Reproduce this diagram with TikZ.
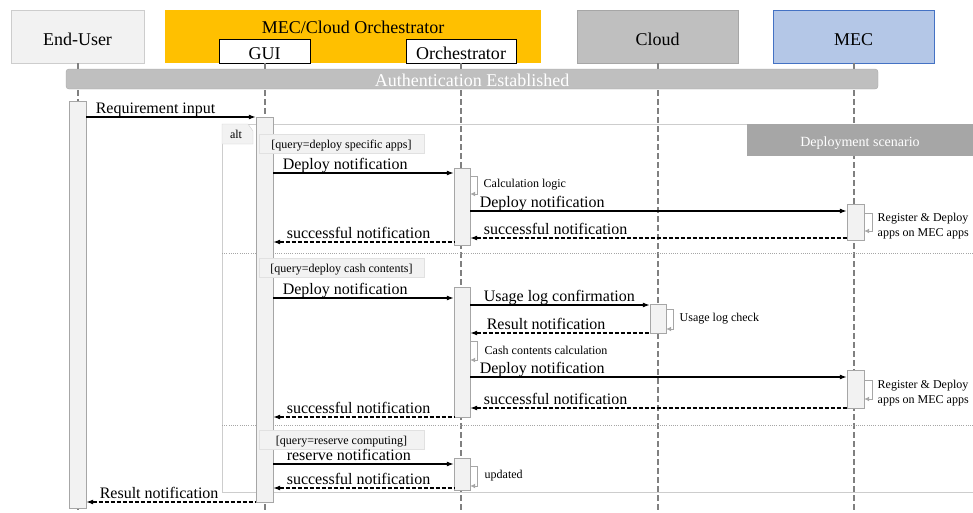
\documentclass[tikz,border=0pt]{standalone}
\usepackage{fontspec}
\setmainfont{Liberation Serif}
\usepackage{tikz}
\usetikzlibrary{positioning,arrows.meta}
\definecolor{colorhead}   {RGB}{242,242,242}
\definecolor{colororch}   {RGB}{255,192,0}
\definecolor{colorcloud}  {RGB}{191,191,191}
\definecolor{colordark}   {RGB}{166,166,166}
\definecolor{colormec}    {RGB}{180,199,231}
\definecolor{colormecline}{RGB}{68,114,196}
\definecolor{colorlife}   {RGB}{128,128,128}
\definecolor{colorframe}  {RGB}{205,205,205}

\begin{document}
\begin{tikzpicture}[
    x=1pt, y=-1pt,
    head/.style={draw=colorframe,fill=colorhead,minimum width=133pt,minimum height=53pt,inner sep=0pt,
        text height=17pt,text depth=0pt,font={\fontsize{18}{20}\selectfont}},
    part/.style={draw=black,fill=white,minimum height=24pt,inner sep=0pt,
        text height=16pt,text depth=0pt,font={\fontsize{18}{20}\selectfont}},
    lifeline/.style={colorlife,line width=2pt,dash pattern=on 6pt off 3pt},
    actbar/.style={draw=colordark,fill=colorhead,minimum width=17pt,inner sep=0pt},
    guard/.style={draw=colorframe!60,fill=colorhead,minimum width=165pt,minimum height=19pt,inner sep=0pt,
        text height=9pt,text depth=0pt,font={\fontsize{12}{14}\selectfont}},
    msg/.style={line width=1.2pt,-{Latex[length=7pt,width=5pt]}},
    reply/.style={line width=1.2pt,dash pattern=on 4pt off 2pt,{Latex[length=7pt,width=5pt]}-},
    lbl/.style={anchor=base west,inner sep=0pt,xshift=9pt,yshift=4pt,font={\fontsize{16}{18}\selectfont}},
    rlbl/.style={lbl,xshift=4pt},
    self/.style={colordark,line width=1pt,-{Latex[length=5pt,width=5pt]}},
    note/.style={anchor=west,inner sep=0pt,align=left,text=black,font={\fontsize{12}{15}\selectfont}},
    separator/.style={colordark,line width=1pt,dash pattern=on 1pt off 1.2pt},
]
    \useasboundingbox (0,0) rectangle (973,512);

    % Participants
    \node[head] (user) at (77.5,36.5) {End-User};
    \node[head,draw=none,fill=colororch,minimum width=376pt] (orch) at (353,36.5) {};
    \node[anchor=base,inner sep=0pt,font={\fontsize{18}{20}\selectfont}] (orchname) at (353,33) {MEC/Cloud Orchestrator};
    \node[part,minimum width=91pt]  (gui) at (264.5,51) {GUI};
    \node[part,minimum width=110pt] (orc) at (461,51)   {Orchestrator};
    \node[head,draw=colordark,fill=colorcloud,minimum width=161pt] (cloud) at (657.5,36.5) {Cloud};
    \node[head,draw=colormecline,fill=colormec,minimum width=161pt] (mec) at (853.5,36.5) {MEC};

    % Lifelines
    \draw[lifeline] (user.south)  -- (user.south |- 0,512);
    \draw[lifeline] (gui.south)   -- (gui.south |- 0,512);
    \draw[lifeline] (orc.south)   -- (orc.south |- 0,512);
    \draw[lifeline] (cloud.south) -- (cloud.south |- 0,512);
    \draw[lifeline] (mec.south)   -- (mec.south |- 0,512);

    \node[draw=colordark,fill=colorcloud,rounded corners=3pt,minimum width=812pt,minimum height=20pt,inner sep=0pt,
        text=white,text height=14pt,text depth=0pt,font={\fontsize{18}{20}\selectfont}] (auth) at (472,79) {Authentication Established};

    % alt frame
    \draw[colorframe,line width=1pt] (973,124) -- (222,124) -- (222,492) -- (973,492);
    \draw[colorframe,fill=colorhead] (222,124) -- (248,124) -- (253,131) -- (253,144) -- (222,144) -- cycle;
    \node[inner sep=0pt,font={\fontsize{12}{14}\selectfont}] (alt) at (236,134) {alt};
    \node[draw=none,fill=colordark,minimum width=226pt,minimum height=32pt,inner sep=0pt,text=white,
        text height=12pt,text depth=0pt,font={\fontsize{14}{16}\selectfont}] (scenario) at (860,140) {Deployment scenario};
    \draw[separator] (222,253) -- (973,253);
    \draw[separator] (222,425) -- (973,425);

    % Activations
    \node[actbar,minimum height=407pt] (user1) at (77.5,304.5) {};
    \node[actbar,minimum height=385pt] (gui1)  at (264.5,309.5) {};
    \node[actbar,minimum width=16pt,minimum height=77pt]  (orc1) at (462,206.5) {};
    \node[actbar,minimum height=36pt]  (mec1)  at (855.5,222) {};
    \node[actbar,minimum width=16pt,minimum height=130pt] (orc2) at (462,352) {};
    \node[actbar,minimum width=16pt,minimum height=29pt]  (cld1) at (658,318.5) {};
    \node[actbar,minimum height=38pt]  (mec2)  at (855.5,389) {};
    \node[actbar,minimum width=16pt,minimum height=32pt]  (orc3) at (462,474) {};

    % Guards
    \node[guard] (query1) at (341.5,143.5) {[query=deploy specific apps]};
    \node[guard] (query2) at (341.5,267.5) {[query=deploy cash contents]};
    \node[guard] (query3) at (341.5,439.5) {[query=reserve computing]};

    % Messages
    \draw[msg] (user1.east |- 0,117) -- (gui1.west |- 0,117) node[lbl,pos=0] {Requirement input};

    \draw[msg] (gui1.east |- 0,173) -- (orc1.west |- 0,173) node[lbl,pos=0] {Deploy notification};
    \draw[self] (orc1.east |- 0,176) -- ++(7,0) -- ++(0,18) node[note,midway,right=6pt] {Calculation logic} -- (orc1.east |- 0,194);
    \draw[msg] (orc1.east |- 0,211) -- (mec1.west |- 0,211) node[lbl,pos=0] {Deploy notification};
    \draw[self] (mec1.east |- 0,213) -- ++(8,0) -- ++(0,18) node[note,midway,right=5pt,yshift=-4pt] {Register \& Deploy\\apps on MEC apps} -- (mec1.east |- 0,231);
    \draw[reply] (orc1.east |- 0,238) -- (mec1.west |- 0,238) node[rlbl,pos=0] {successful notification};
    \draw[reply] (gui1.east |- 0,242) -- (orc1.west |- 0,242) node[rlbl,pos=0] {successful notification};

    \draw[msg] (gui1.east |- 0,298) -- (orc2.west |- 0,298) node[lbl,pos=0] {Deploy notification};
    \draw[msg] (orc2.east |- 0,305) -- (cld1.west |- 0,305) node[rlbl,pos=0] {Usage log confirmation};
    \draw[self] (cld1.east |- 0,309) -- ++(7,0) -- ++(0,20) node[note,midway,right=6pt] {Usage log check} -- (cld1.east |- 0,329);
    \draw[reply] (orc2.east |- 0,333) -- (cld1.west |- 0,333) node[rlbl,xshift=3pt,pos=0] {Result notification};
    \draw[self] (orc2.east |- 0,341) -- ++(7,0) -- ++(0,19) node[note,midway,right=7pt] {Cash contents calculation} -- (orc2.east |- 0,360);
    \draw[msg] (orc2.east |- 0,377) -- (mec2.west |- 0,377) node[lbl,pos=0] {Deploy notification};
    \draw[self] (mec2.east |- 0,380) -- ++(8,0) -- ++(0,19) node[note,midway,right=5pt,yshift=-4pt] {Register \& Deploy\\apps on MEC apps} -- (mec2.east |- 0,399);
    \draw[reply] (orc2.east |- 0,408) -- (mec2.west |- 0,408) node[rlbl,pos=0] {successful notification};
    \draw[reply] (gui1.east |- 0,417) -- (orc2.west |- 0,417) node[rlbl,pos=0] {successful notification};

    \draw[msg] (gui1.east |- 0,464) -- (orc3.west |- 0,464) node[rlbl,pos=0] {reserve notification};
    \draw[self] (orc3.east |- 0,466) -- ++(7,0) -- ++(0,20) node[note,midway,right=7pt] {updated} -- (orc3.east |- 0,486);
    \draw[reply] (gui1.east |- 0,488) -- (orc3.west |- 0,488) node[rlbl,pos=0] {successful notification};
    \draw[reply] (user1.east |- 0,502) -- (gui1.west |- 0,502) node[rlbl,pos=0] {Result notification};

\end{tikzpicture}
\end{document}
